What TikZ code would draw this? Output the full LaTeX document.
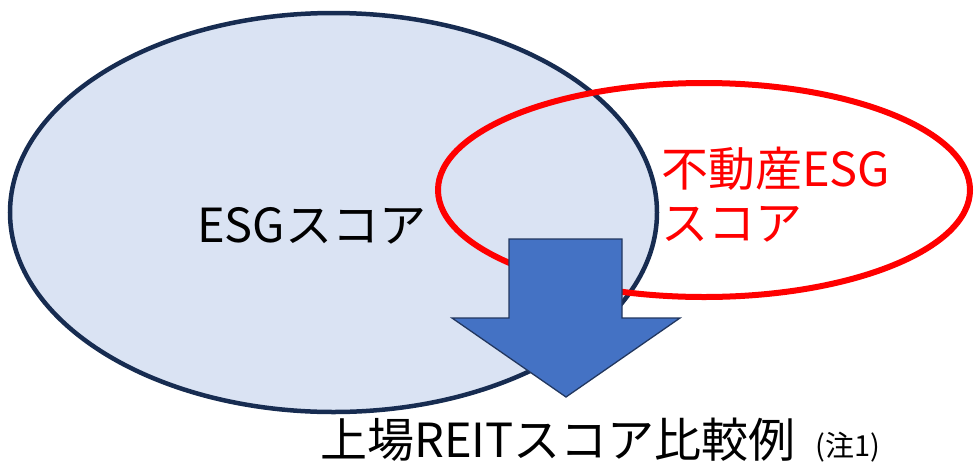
\documentclass[tikz,border=0pt]{standalone}
\usepackage{fontspec}
\setmainfont{Noto Sans CJK JP}
\definecolor{esgfill}{HTML}{DAE3F3}
\definecolor{esgline}{HTML}{172C51}
\definecolor{arrowfill}{HTML}{4472C4}
\definecolor{arrowline}{HTML}{22375F}
\tikzset{
  bigtext/.style={anchor=base west, inner sep=0pt, font=\fontsize{47}{56}\selectfont},
  smalltext/.style={anchor=base west, inner sep=0pt, font=\fontsize{29}{34}\selectfont},
}
\begin{document}
\begin{tikzpicture}[x=1pt,y=-1pt]
\useasboundingbox (0,0) rectangle (974,461);
% ESG score ellipse
\draw[fill=esgfill, draw=esgline, line width=4.5pt] (333.5,212.5) ellipse [x radius=323.5, y radius=199.5];
% real estate ESG ellipse
\draw[draw=red, line width=6pt] (704,190) ellipse [x radius=266, y radius=107];
% down arrow
\draw[fill=arrowfill, draw=arrowline, line width=1.3pt, line join=miter]
  (509,239) -- (622,239) -- (622,318) -- (680,318) -- (566,397) -- (452,318) -- (509,318) -- cycle;
% texts
\node[bigtext] (esg) at (197,242) {ESGスコア};
\node[bigtext, text=red] (re1) at (661,186) {不動産ESG};
\node[bigtext, text=red] (re2) at (661,240) {スコア};
\node[bigtext] (reit) at (320,457) {上場REITスコア比較例};
\node[smalltext] (note) at (815,456) {(注1)};
\end{tikzpicture}
\end{document}
